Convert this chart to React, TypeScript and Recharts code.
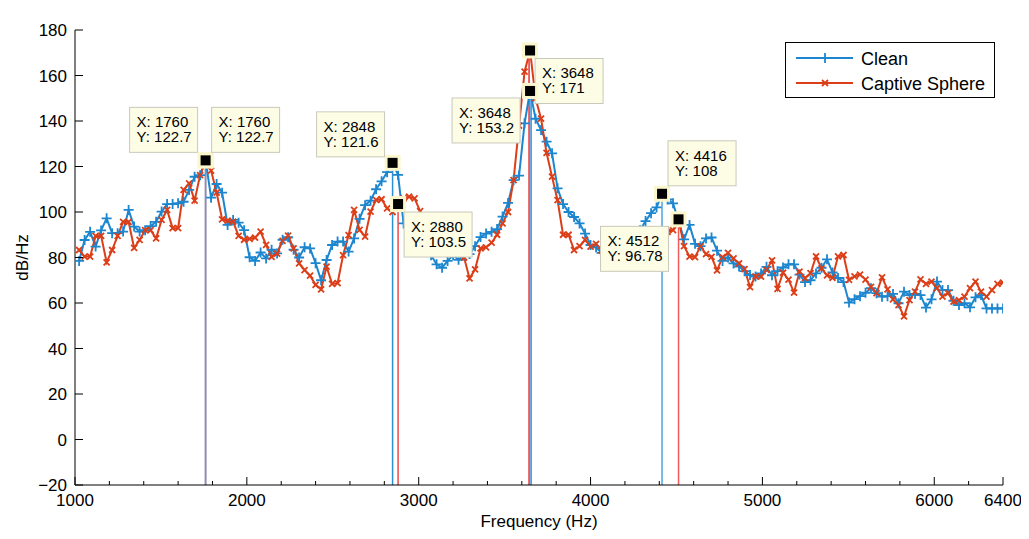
import React from "react";
import {
  ComposedChart,
  Line,
  Scatter,
  XAxis,
  YAxis,
  Legend,
  ReferenceLine,
} from "recharts";

// FFT bins (Hz)
const freqs: number[] = [
  1024, 1056, 1088, 1120, 1152, 1184, 1216, 1248, 1280, 1312,
  1344, 1376, 1408, 1440, 1472, 1504, 1536, 1568, 1600, 1632,
  1664, 1696, 1728, 1760, 1792, 1824, 1856, 1888, 1920, 1952,
  1984, 2016, 2048, 2080, 2112, 2144, 2176, 2208, 2240, 2272,
  2304, 2336, 2368, 2400, 2432, 2464, 2496, 2528, 2560, 2592,
  2624, 2656, 2688, 2720, 2752, 2784, 2816, 2848, 2880, 2912,
  2944, 2976, 3008, 3040, 3072, 3104, 3136, 3168, 3200, 3232,
  3264, 3296, 3328, 3360, 3392, 3424, 3456, 3488, 3520, 3552,
  3584, 3616, 3648, 3680, 3712, 3744, 3776, 3808, 3840, 3872,
  3904, 3936, 3968, 4000, 4032, 4064, 4096, 4128, 4160, 4192,
  4224, 4256, 4288, 4320, 4352, 4384, 4416, 4448, 4480, 4512,
  4544, 4576, 4608, 4640, 4672, 4704, 4736, 4768, 4800, 4832,
  4864, 4896, 4928, 4960, 4992, 5024, 5056, 5088, 5120, 5152,
  5184, 5216, 5248, 5280, 5312, 5344, 5376, 5408, 5440, 5472,
  5504, 5536, 5568, 5600, 5632, 5664, 5696, 5728, 5760, 5792,
  5824, 5856, 5888, 5920, 5952, 5984, 6016, 6048, 6080, 6112,
  6144, 6176, 6208, 6240, 6272, 6304, 6336, 6368, 6400,
];

const clean: number[] = [
  78.5, 87.7, 91.3, 84.8, 91.9, 97.2, 90.7, 90.7, 91.4, 100.9,
  93.6, 91.4, 92.0, 93.8, 95.7, 100.2, 103.5, 103.5, 103.8, 104.5,
  109.7, 115.5, 116.2, 122.7, 106.3, 112.3, 108.5, 94.3, 96.5, 95.3,
  92.0, 80.1, 78.5, 82.2, 79.6, 83.4, 81.8, 87.8, 88.9, 83.4,
  80.0, 84.5, 84.0, 77.5, 70.0, 78.9, 85.5, 87.0, 87.0, 82.6,
  88.4, 97.0, 103.0, 105.0, 110.0, 113.5, 117.5, 121.6, 116.3, 95.0,
  91.0, 89.0, 86.0, 84.0, 81.0, 77.0, 75.5, 78.5, 81.0, 79.0,
  81.0, 81.5, 85.0, 89.0, 90.5, 91.3, 92.5, 98.0, 104.0, 114.0,
  116.0, 139.0, 153.2, 141.0, 136.0, 130.9, 125.8, 110.4, 103.5, 100.0,
  97.8, 95.0, 90.5, 85.5, 84.5, 82.0, 80.0, 78.0, 79.0, 81.0,
  84.0, 88.0, 92.0, 96.0, 99.5, 102.0, 108.0, 105.5, 103.8, 96.0,
  88.0, 94.3, 86.0, 85.0, 88.4, 88.8, 83.0, 78.5, 80.0, 77.4,
  76.0, 74.0, 72.3, 71.6, 73.0, 75.9, 72.2, 74.0, 75.6, 77.0,
  77.0, 72.5, 69.2, 70.0, 73.0, 75.5, 79.2, 73.4, 71.0, 69.2,
  60.2, 61.7, 63.0, 64.5, 66.5, 64.3, 62.8, 63.0, 64.0, 59.9,
  65.0, 63.5, 64.0, 63.5, 58.0, 61.6, 69.4, 65.7, 65.7, 61.0,
  59.1, 59.9, 58.1, 62.5, 63.5, 57.6, 57.6, 57.6, 57.6,
];

const captiveSphere: number[] = [
  83.3, 80.4, 80.4, 89.5, 89.5, 77.9, 83.3, 89.5, 95.7, 95.7,
  84.2, 87.7, 92.0, 92.0, 88.4, 96.5, 100.9, 92.9, 92.9, 109.7,
  112.6, 105.0, 116.2, 122.7, 118.2, 108.5, 96.8, 96.2, 95.8, 89.5,
  87.8, 88.2, 88.7, 91.4, 85.5, 80.3, 81.7, 87.3, 89.6, 84.0,
  77.4, 74.5, 72.0, 68.0, 66.0, 76.0, 68.4, 68.7, 81.0, 89.8,
  100.9, 92.1, 89.2, 100.2, 105.3, 105.6, 101.6, 100.0, 103.5, 106.0,
  106.7, 106.0, 100.4, 97.0, 94.0, 90.0, 88.0, 86.0, 84.0, 82.0,
  80.0, 70.8, 74.8, 84.0, 84.5, 86.5, 90.0, 95.0, 100.0, 114.0,
  138.0, 161.7, 171.0, 150.0, 141.0, 126.0, 115.5, 105.2, 90.0, 90.0,
  83.3, 85.0, 87.7, 84.8, 86.0, 83.0, 84.0, 81.0, 83.0, 86.0,
  82.0, 84.0, 87.0, 85.0, 83.0, 86.0, 88.0, 91.3, 92.0, 96.78,
  85.0, 80.4, 80.2, 84.9, 81.5, 80.3, 74.3, 80.2, 82.0, 79.6,
  77.4, 74.9, 67.0, 71.7, 71.6, 74.6, 78.7, 66.2, 73.3, 70.3,
  64.6, 73.8, 70.9, 73.1, 80.5, 75.2, 72.1, 71.1, 80.5, 81.1,
  70.2, 71.7, 72.5, 70.3, 67.1, 64.3, 71.3, 66.0, 61.6, 59.1,
  54.1, 61.3, 65.0, 70.4, 68.4, 69.4, 66.5, 62.8, 64.3, 60.6,
  61.3, 62.8, 66.5, 69.4, 65.0, 62.8, 65.7, 68.4, 69.0,
];

const xMajorTicks = [1000, 2000, 3000, 4000, 5000, 6000, 6400];
const xMinorTicks = [
  1200, 1400, 1600, 1800, 2200, 2400, 2600, 2800, 3200, 3400, 3600, 3800,
  4200, 4400, 4600, 4800, 5200, 5400, 5600, 5800, 6200,
];
const yTicks = [-20, 0, 20, 40, 60, 80, 100, 120, 140, 160, 180];

// data cursor tips: frequency, value
const tips = [
  { f: 1760, val: 122.7 },
  { f: 1760, val: 122.7 },
  { f: 2848, val: 121.6 },
  { f: 2880, val: 103.5 },
  { f: 3648, val: 171 },
  { f: 3648, val: 153.2 },
  { f: 4416, val: 108 },
  { f: 4512, val: 96.78 },
];
// where each tip box sits relative to its point (px)
const tipBoxOffsets = [
  { dx: -76, dy: -53 },
  { dx: 6, dy: -53 },
  { dx: -76, dy: -51 },
  { dx: 6, dy: 8 },
  { dx: 5, dy: 8 },
  { dx: -78, dy: 7 },
  { dx: 6, dy: -53 },
  { dx: -78, dy: 7 },
];

// stem lines under the tips
const stems = [
  { x: 1760, y: 122.7 },
  { x: 2848, y: 121.6 },
  { x: 2880, y: 103.5 },
  { x: 3648, y: 171 },
  { x: 3648, y: 153.2 },
  { x: 4416, y: 108 },
  { x: 4512, y: 96.78 },
];
const stemStyles = [
  { color: "#8f8bb2", width: 2, shift: 0 },
  { color: "#2b8fd8", width: 1.5, shift: 0 },
  { color: "#f04a4a", width: 1.5, shift: 0 },
  { color: "#e83030", width: 1.5, shift: -1 },
  { color: "#2a8ad6", width: 1.5, shift: 1 },
  { color: "#7ab8e6", width: 2, shift: 0 },
  { color: "#f25a5a", width: 1.5, shift: 0 },
];

const BLUE = "#1c86cf";
const RED = "#dc3e18";
const FONT = '"Liberation Sans", Arial, Helvetica, sans-serif';
const W = 1021;
const H = 523;

const chartData = freqs.map((f, i) => ({
  f,
  clean: clean[i],
  sphere: captiveSphere[i],
}));

const allXTicks = [...xMajorTicks, ...xMinorTicks].sort((a, b) => a - b);

const fmt = (v: number) => (v < 0 ? "\u2212" + Math.abs(v) : String(v));

const PlusDot = (props: any) => {
  const { cx, cy, index } = props;
  if (cx == null || cy == null) return <g key={`pd${index}`} />;
  return (
    <path
      key={`pd${index}`}
      d={`M${cx - 5},${cy}H${cx + 5}M${cx},${cy - 5}V${cy + 5}`}
      stroke={BLUE}
      strokeWidth={1.8}
      fill="none"
    />
  );
};

const CrossDot = (props: any) => {
  const { cx, cy, index } = props;
  if (cx == null || cy == null) return <g key={`xd${index}`} />;
  return (
    <path
      key={`xd${index}`}
      d={`M${cx - 3},${cy - 3}L${cx + 3},${cy + 3}M${cx - 3},${cy + 3}L${cx + 3},${cy - 3}`}
      stroke={RED}
      strokeWidth={1.8}
      fill="none"
    />
  );
};

const BottomTick = (props: any) => {
  const { x, y, payload } = props;
  const major = xMajorTicks.includes(payload.value);
  return (
    <g>
      <line x1={x} x2={x} y1={y} y2={y - (major ? 8 : 4)} stroke="#000" />
      {major && (
        <text x={x} y={y + 21} textAnchor="middle" fontSize={17} fill="#000" fontFamily={FONT}>
          {payload.value}
        </text>
      )}
    </g>
  );
};

const TopTick = (props: any) => {
  const { x, y, payload } = props;
  const major = xMajorTicks.includes(payload.value);
  return <line x1={x} x2={x} y1={y} y2={y + (major ? 8 : 4)} stroke="#000" />;
};

const LeftTick = (props: any) => {
  const { x, y, payload } = props;
  return (
    <g>
      <line x1={x} x2={x + 8} y1={y} y2={y} stroke="#000" />
      <text x={x - 8} y={y + 6} textAnchor="end" fontSize={17} fill="#000" fontFamily={FONT}>
        {fmt(payload.value)}
      </text>
    </g>
  );
};

const RightTick = (props: any) => {
  const { x, y } = props;
  return <line x1={x} x2={x - 8} y1={y} y2={y} stroke="#000" />;
};

const makeTipShape = (i: number) => (props: any) => {
  const { cx, cy } = props;
  if (cx == null || cy == null) return <g />;
  const { dx, dy } = tipBoxOffsets[i];
  const tip = tips[i];
  const bx = cx + dx;
  const by = cy + dy;
  return (
    <g>
      <rect x={cx - 8} y={cy - 8} width={16} height={16} fill="#fbf6cc" />
      <rect x={cx - 5} y={cy - 5} width={10} height={10} fill="#000" />
      <rect x={bx} y={by} width={68} height={45} fill="#fdfde6" stroke="#c9c9bb" />
      <text x={bx + 7} y={by + 20} fontSize={15} fill="#000" fontFamily={FONT}>
        X: {tip.f}
      </text>
      <text x={bx + 7} y={by + 35} fontSize={15} fill="#000" fontFamily={FONT}>
        Y: {tip.val}
      </text>
    </g>
  );
};

const makeStemShape = (i: number) => (props: any) => {
  const { x1, y1, x2, y2 } = props;
  const s = stemStyles[i];
  return (
    <line
      x1={x1 + s.shift}
      x2={x2 + s.shift}
      y1={y1}
      y2={y2}
      stroke={s.color}
      strokeWidth={s.width}
    />
  );
};

const seriesOrder = ["clean", "sphere"];

const LegendBox = (props: any) => {
  const payload = (props.payload || [])
    .filter((e: any) => seriesOrder.includes(e.dataKey))
    .sort((a: any, b: any) => seriesOrder.indexOf(a.dataKey) - seriesOrder.indexOf(b.dataKey));
  return (
    <svg width={210} height={56} style={{ display: "block" }}>
      <rect x={0.5} y={0.5} width={209} height={55} fill="#fff" stroke="#000" />
      {payload.map((entry: any, i: number) => {
        const cy = 16 + i * 25;
        const isClean = entry.dataKey === "clean";
        return (
          <g key={entry.value}>
            <line x1={11} x2={68} y1={cy} y2={cy} stroke={entry.color} strokeWidth={2} />
            {isClean ? (
              <path d={`M35,${cy}H45M40,${cy - 5}V${cy + 5}`} stroke={BLUE} strokeWidth={1.8} />
            ) : (
              <path
                d={`M37,${cy - 3}L43,${cy + 3}M37,${cy + 3}L43,${cy - 3}`}
                stroke={RED}
                strokeWidth={1.8}
              />
            )}
            <text x={76} y={cy + 6.5} fontSize={18} fill="#000" fontFamily={FONT}>
              {entry.value}
            </text>
          </g>
        );
      })}
    </svg>
  );
};

const App: React.FC = () => {
  return (
    <div style={{ width: W, height: H, fontFamily: FONT }}>
      <ComposedChart
        width={W}
        height={H}
        data={chartData}
        margin={{ top: 22, right: 26, bottom: 0, left: 0 }}
      >
        <XAxis
          dataKey="f"
          type="number"
          domain={[1000, 6400]}
          allowDataOverflow
          ticks={allXTicks}
          interval={0}
          tickSize={0}
          tickMargin={0}
          tickLine={false}
          tick={<BottomTick />}
          height={46}
          axisLine={{ stroke: "#000" }}
          label={{
            value: "Frequency (Hz)",
            position: "insideBottom",
            offset: 4,
            style: { fontSize: 17, fill: "#000", fontFamily: FONT },
          }}
        />
        <XAxis
          xAxisId="top"
          orientation="top"
          dataKey="f"
          type="number"
          domain={[1000, 6400]}
          allowDataOverflow
          ticks={allXTicks}
          interval={0}
          tickSize={0}
          tickMargin={0}
          tickLine={false}
          tick={<TopTick />}
          height={0}
          axisLine={{ stroke: "#000" }}
          label={{
            value: "20 Psia Frequency Response",
            position: "top",
            offset: 10,
            style: { fontSize: 17, fill: "#000", fontFamily: FONT },
          }}
        />
        <YAxis
          type="number"
          domain={[-20, 180]}
          allowDataOverflow
          ticks={yTicks}
          interval={0}
          tickSize={0}
          tickMargin={0}
          tickLine={false}
          tick={<LeftTick />}
          width={67}
          axisLine={{ stroke: "#000" }}
          label={{
            value: "dB/Hz",
            angle: -90,
            position: "insideLeft",
            offset: 14,
            style: { textAnchor: "middle", fontSize: 17, fill: "#000", fontFamily: FONT },
          }}
        />
        <YAxis
          yAxisId="right"
          orientation="right"
          type="number"
          domain={[-20, 180]}
          allowDataOverflow
          ticks={yTicks}
          interval={0}
          tickSize={0}
          tickMargin={0}
          tickLine={false}
          tick={<RightTick />}
          width={0}
          axisLine={{ stroke: "#000" }}
        />
        <Legend
          layout="horizontal"
          verticalAlign="middle"
          align="center"
          content={<LegendBox />}
          wrapperStyle={{ top: 34, left: 777, width: 210, height: 56 }}
        />
        {stems.map((s, i) => (
          <ReferenceLine
            key={`stem${i}`}
            segment={[
              { x: s.x, y: -20 },
              { x: s.x, y: s.y },
            ]}
            shape={makeStemShape(i)}
          />
        ))}
        <Line
          name="Clean"
          dataKey="clean"
          stroke={BLUE}
          strokeWidth={2}
          dot={PlusDot}
          activeDot={false}
          isAnimationActive={false}
        />
        <Line
          name="Captive Sphere"
          dataKey="sphere"
          stroke={RED}
          strokeWidth={2}
          dot={CrossDot}
          activeDot={false}
          isAnimationActive={false}
        />
        {tips.map((t, i) => (
          <Scatter
            key={`tip${i}`}
            data={[t]}
            dataKey="val"
            legendType="none"
            shape={makeTipShape(i)}
            zIndex={5000}
            isAnimationActive={false}
          />
        ))}
      </ComposedChart>
    </div>
  );
};

export default App;
